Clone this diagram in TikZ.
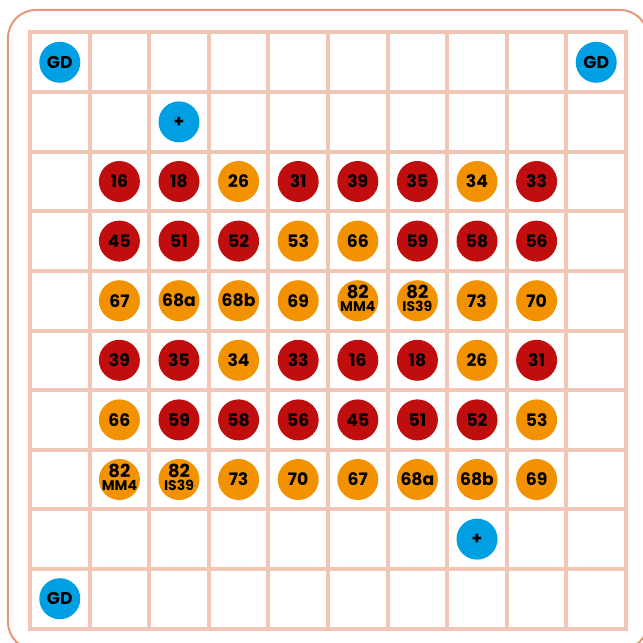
\documentclass[tikz,border=0pt]{standalone}
\usepackage{fontspec}
\newfontfamily\dotfont{Poppins}
\usetikzlibrary{positioning}
\definecolor{gridline}{RGB}{242,198,182}
\definecolor{framecol}{RGB}{232,150,122}
\definecolor{bluedot}{RGB}{0,159,227}
\definecolor{reddot}{RGB}{192,13,13}
\definecolor{orangedot}{RGB}{243,146,0}
\newcommand{\subtag}[2]{\raisebox{-2.4pt}[0pt][0pt]{\begin{tabular}{@{}c@{}}%
  {\fontsize{9}{9}\selectfont #1}\\[-1.8pt]{\fontsize{7}{7}\selectfont #2}\end{tabular}}}

\begin{document}
\begin{tikzpicture}[x=29.8pt, y=-29.8pt,
  dot/.style={circle, minimum size=20.5pt, inner sep=0pt,
    text=black, font=\dotfont\bfseries\fontsize{8.6}{8.6}\selectfont}]
  \useasboundingbox (-0.503,-0.545) rectangle (10.285,10.243);
  \draw[framecol, line width=1pt, rounded corners=14pt] (-0.369,-0.378) rectangle (10.369,10.360);
  % grid
  \foreach \k in {0,...,10} {
    \draw[gridline, line width=2pt, line cap=rect] (\k,0) -- (\k,10);
    \draw[gridline, line width=2pt, line cap=rect] (0,\k) -- (10,\k);
  }
  % blue markers
  \node[dot, fill=bluedot] (gd-tl) at (0.5,0.5) {GD};
  \node[dot, fill=bluedot] (gd-tr) at (9.5,0.5) {GD};
  \node[dot, fill=bluedot] (gd-bl) at (0.5,9.5) {GD};
  \node[dot, fill=bluedot, font=\dotfont\bfseries\fontsize{8.5}{8.5}\selectfont] (plus-a) at (2.5,1.5) {+};
  \node[dot, fill=bluedot, font=\dotfont\bfseries\fontsize{8.5}{8.5}\selectfont] (plus-b) at (7.5,8.5) {+};
  % row 2
  \foreach \i/\lab/\col in {1/16/reddot, 2/18/reddot, 3/26/orangedot, 4/31/reddot,
                            5/39/reddot, 6/35/reddot, 7/34/orangedot, 8/33/reddot} {
    \node[dot, fill=\col] (r2-\i) at (\i+0.5, 2.5) {\lab};
  }
  % row 3
  \foreach \i/\lab/\col in {1/45/reddot, 2/51/reddot, 3/52/reddot, 4/53/orangedot,
                            5/66/orangedot, 6/59/reddot, 7/58/reddot, 8/56/reddot} {
    \node[dot, fill=\col] (r3-\i) at (\i+0.5, 3.5) {\lab};
  }
  % row 4
  \foreach \i/\lab in {1/67, 2/68a, 3/68b, 4/69, 5/{\subtag{82}{MM4}},
                       6/{\subtag{82}{IS39}}, 7/73, 8/70} {
    \node[dot, fill=orangedot] (r4-\i) at (\i+0.5, 4.5) {\lab};
  }
  % row 5
  \foreach \i/\lab/\col in {1/39/reddot, 2/35/reddot, 3/34/orangedot, 4/33/reddot,
                            5/16/reddot, 6/18/reddot, 7/26/orangedot, 8/31/reddot} {
    \node[dot, fill=\col] (r5-\i) at (\i+0.5, 5.5) {\lab};
  }
  % row 6
  \foreach \i/\lab/\col in {1/66/orangedot, 2/59/reddot, 3/58/reddot, 4/56/reddot,
                            5/45/reddot, 6/51/reddot, 7/52/reddot, 8/53/orangedot} {
    \node[dot, fill=\col] (r6-\i) at (\i+0.5, 6.5) {\lab};
  }
  % row 7
  \foreach \i/\lab in {1/{\subtag{82}{MM4}}, 2/{\subtag{82}{IS39}}, 3/73, 4/70,
                       5/67, 6/68a, 7/68b, 8/69} {
    \node[dot, fill=orangedot] (r7-\i) at (\i+0.5, 7.5) {\lab};
  }
\end{tikzpicture}
\end{document}
